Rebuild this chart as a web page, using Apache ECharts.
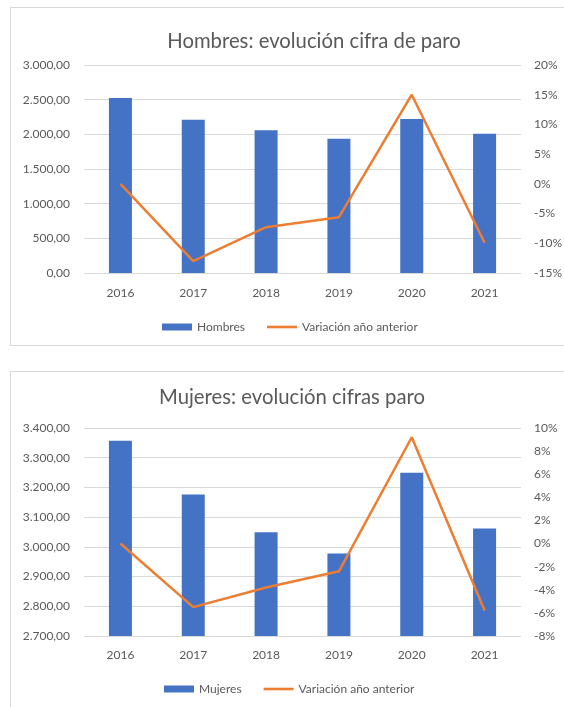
<!DOCTYPE html>
<html>
<head>
<meta charset="utf-8">
<script src="https://cdn.jsdelivr.net/npm/echarts@6/dist/echarts.min.js"></script>
<style>
    html, body { margin: 0; padding: 0; background: #fff; overflow: hidden; }
    .box { position: absolute; left: 10px; width: 560px; border: 1px solid #d9d9d9; }
</style>
</head>
<body>
<div id="chartHombres" class="box" style="top:7px;height:337px"></div>
<div id="chartMujeres" class="box" style="top:371px;height:340px"></div>
<script>
const years = ["2016", "2017", "2018", "2019", "2020", "2021"];

const hombres = [2525, 2210, 2060, 1935, 2222, 2010];
const variacionHombres = [0, -13.0, -7.3, -5.6, 15.0, -9.9];

const mujeres = [3357, 3176, 3049, 2978, 3249, 3062];
const variacionMujeres = [0, -5.5, -3.8, -2.4, 9.2, -5.8];

const FONT = "Lato";
const GREY = "#595959";

// 3000 -> "3.000,00"
const esNumber = (v) => {
    const parts = Math.abs(v).toFixed(2).split(".");
    const miles = parts[0].replace(/\B(?=(\d{3})+(?!\d))/g, ".");
    return (v < 0 ? "-" : "") + miles + "," + parts[1];
};

const buildOption = (cfg) => ({
    animation: false,
    title: {
        text: cfg.title,
        left: cfg.titleX,
        top: cfg.titleY,
        textAlign: "center",
        textStyle: { fontFamily: FONT, fontSize: 20.3, fontWeight: "normal", color: GREY }
    },
    legend: {
        left: cfg.legendX,
        top: cfg.legendY,
        itemWidth: 30,
        itemHeight: 7,
        itemGap: 22,
        textStyle: { fontFamily: FONT, fontSize: 12, color: GREY },
        data: [
            { name: cfg.barName, icon: "rect" },
            // plain line icon, no marker
            { name: "Variación año anterior", icon: "path://M0,0H30V2.6H0Z" }
        ]
    },
    grid: {
        left: 73,
        top: cfg.gridTop,
        width: 437,
        height: 208
    },
    xAxis: {
        type: "category",
        data: years,
        axisLine: { show: false },
        axisTick: { show: false },
        axisLabel: { fontFamily: FONT, fontSize: 12, color: GREY, margin: cfg.xMargin }
    },
    yAxis: [
        {
            type: "value",
            min: cfg.leftMin,
            max: cfg.leftMax,
            interval: cfg.leftStep,
            axisLine: { show: false },
            axisTick: { show: false },
            splitLine: { lineStyle: { color: "#d9d9d9", width: 1 } },
            axisLabel: {
                fontFamily: FONT, fontSize: 12, color: GREY, margin: 14,
                formatter: esNumber
            }
        },
        {
            type: "value",
            min: cfg.rightMin,
            max: cfg.rightMax,
            interval: cfg.rightStep,
            axisLine: { show: false },
            axisTick: { show: false },
            splitLine: { show: false },
            axisLabel: {
                fontFamily: FONT, fontSize: 12, color: GREY, margin: 13,
                formatter: "{value}%"
            }
        }
    ],
    series: [
        {
            name: cfg.barName,
            type: "bar",
            data: cfg.bars,
            barWidth: 23,
            itemStyle: { color: "#4472c4" }
        },
        {
            name: "Variación año anterior",
            type: "line",
            yAxisIndex: 1,
            data: cfg.line,
            symbol: "none",
            lineStyle: { color: "#ed7d31", width: 2.5 },
            itemStyle: { color: "#ed7d31" }
        }
    ]
});

echarts.init(document.getElementById("chartHombres")).setOption(buildOption({
    title: "Hombres: evolución cifra de paro",
    titleX: 298, titleY: 18,
    legendX: 146, legendY: 308,
    gridTop: 57, xMargin: 14,
    barName: "Hombres",
    bars: hombres,
    line: variacionHombres,
    leftMin: 0, leftMax: 3000, leftStep: 500,
    rightMin: -15, rightMax: 20, rightStep: 5
}));

echarts.init(document.getElementById("chartMujeres")).setOption(buildOption({
    title: "Mujeres: evolución cifras paro",
    titleX: 276, titleY: 10,
    legendX: 148, legendY: 306,
    gridTop: 56, xMargin: 13,
    barName: "Mujeres",
    bars: mujeres,
    line: variacionMujeres,
    leftMin: 2700, leftMax: 3400, leftStep: 100,
    rightMin: -8, rightMax: 10, rightStep: 2
}));
</script>
</body>
</html>
